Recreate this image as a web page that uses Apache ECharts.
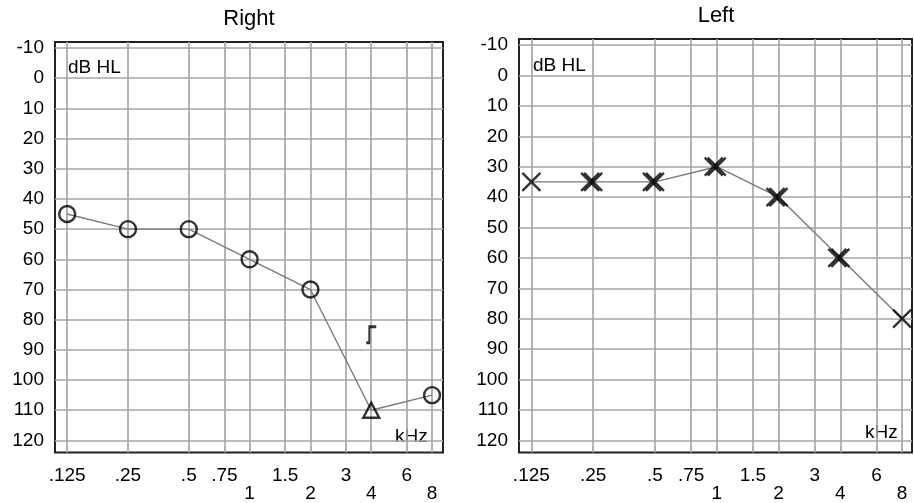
<!DOCTYPE html>
<html><head><meta charset="utf-8">
<script src="https://cdn.jsdelivr.net/npm/echarts@6/dist/echarts.min.js"></script>
<style>html,body{margin:0;padding:0;background:#fff}#c{width:914px;height:503px}</style>
</head><body><div id="c"></div>
<script>
// ---- data ----
const freqs = [0.125, 0.25, 0.5, 1, 2, 4, 8];
const rightAirDb = [45, 50, 50, 60, 70, 110, 105];
const rightAirMasked = [false, false, false, false, false, true, false];
const rightBoneMaskedFreqs = [4];
const rightBoneMaskedDb = [85];
const leftAirDb = [35, 35, 35, 30, 40, 60, 80];
const leftRetestFreqs = [0.25, 0.5, 1, 2, 4];
const leftRetestDb = [35, 35, 30, 40, 60];
const xTickFreqs = [0.125, 0.25, 0.5, 0.75, 1, 1.5, 2, 3, 4, 6, 8];
const xTickLabels = ['.125', '.25', '.5', '.75', '1', '1.5', '2', '3', '4', '6', '8'];
const yTicks = [-10, 0, 10, 20, 30, 40, 50, 60, 70, 80, 90, 100, 110, 120];
const titles = ['Right', 'Left'];

// ---- helpers ----
const lg = f => Math.log2(f);
const xTickPos = xTickFreqs.map(lg);
function xLabel(v) {
  let best = 0;
  for (let i = 1; i < xTickPos.length; i++) if (Math.abs(xTickPos[i] - v) < Math.abs(xTickPos[best] - v)) best = i;
  const f = xTickFreqs[best];
  const lower = f >= 1 && Number.isInteger(Math.log2(f));
  return lower ? '\n' + xTickLabels[best] : xTickLabels[best];
}
const FONT = '"Liberation Sans", Arial, sans-serif';
const INK = '#000';
const GRIDC = '#a6a6a6';
const X_PATH = 'path://M0,0L20,20M20,0L0,20';
const BRACKET_PATH = 'path://M13,0L4,0L4,18L0,18';

function makeX(idx, max) {
  return {
    type: 'value', gridIndex: idx, min: -3.2, max: max,
    axisLine: { show: false }, axisTick: { show: false, customValues: xTickPos },
    splitLine: { show: true, lineStyle: { color: GRIDC, width: 1.7 } },
    axisLabel: { customValues: xTickPos, formatter: xLabel, color: INK, fontSize: 19, fontFamily: FONT, lineHeight: 18, margin: 14 }
  };
}
function makeY(idx) {
  return {
    type: 'value', gridIndex: idx, inverse: true, min: -12, max: 124,
    axisLine: { show: false }, axisTick: { show: false, customValues: yTicks },
    splitLine: { show: true, lineStyle: { color: GRIDC, width: 1.7 } },
    axisLabel: { customValues: yTicks, color: INK, fontSize: 19, fontFamily: FONT, margin: 11 }
  };
}
const markStyle = { color: 'rgba(0,0,0,0)', borderColor: INK, borderWidth: 2.4 };
const lineStyle = { color: '#7a7a7a', width: 1.4 };

const rightPts = freqs.map((f, i) => [lg(f), rightAirDb[i]]);
const leftPts = freqs.map((f, i) => [lg(f), leftAirDb[i]]);

const option = {
  backgroundColor: '#fff',
  animation: false,
  title: titles.map((t, i) => ({
    text: t, left: i === 0 ? 249 : 716, top: i === 0 ? 8 : 5, textAlign: 'center', padding: 0,
    textStyle: { fontSize: 22, fontWeight: 'normal', color: INK, fontFamily: FONT }
  })),
  grid: [
    { left: 55, right: 471, top: 42, bottom: 46, show: true, borderColor: '#222', borderWidth: 2, backgroundColor: '#fff' },
    { left: 519, right: 2, top: 39, bottom: 50, show: true, borderColor: '#222', borderWidth: 2, backgroundColor: '#fff' }
  ],
  xAxis: [makeX(0, 3.18), makeX(1, 3.16)],
  yAxis: [makeY(0), makeY(1)],
  graphic: [
    { type: 'text', left: 68, top: 58, style: { text: 'dB HL', font: '19px ' + FONT, fill: INK } },
    { type: 'text', left: 533, top: 56, style: { text: 'dB HL', font: '19px ' + FONT, fill: INK } },
    { type: 'text', left: 395, top: 427, style: { text: 'kHz', font: '19px ' + FONT, fill: INK } },
    { type: 'text', left: 865, top: 423, style: { text: 'kHz', font: '19px ' + FONT, fill: INK } }
  ],
  series: [
    { type: 'line', xAxisIndex: 0, yAxisIndex: 0, data: rightPts, symbol: 'none', lineStyle: lineStyle, z: 2 },
    { type: 'scatter', xAxisIndex: 0, yAxisIndex: 0, data: rightPts.filter((p, i) => !rightAirMasked[i]), symbol: 'circle', symbolSize: 16, itemStyle: markStyle, z: 3 },
    { type: 'scatter', xAxisIndex: 0, yAxisIndex: 0, data: rightPts.filter((p, i) => rightAirMasked[i]), symbol: 'triangle', symbolSize: [16, 15], itemStyle: markStyle, z: 3 },
    { type: 'scatter', xAxisIndex: 0, yAxisIndex: 0, data: rightBoneMaskedFreqs.map((f, i) => [lg(f), rightBoneMaskedDb[i]]), symbol: BRACKET_PATH, symbolSize: [10, 16], itemStyle: { color: 'rgba(0,0,0,0)', borderColor: INK, borderWidth: 2.4 }, z: 3 },
    { type: 'line', xAxisIndex: 1, yAxisIndex: 1, data: leftPts, symbol: 'none', lineStyle: lineStyle, z: 2 },
    { type: 'scatter', xAxisIndex: 1, yAxisIndex: 1, data: leftPts, symbol: X_PATH, symbolSize: 18, itemStyle: markStyle, z: 3 },
    { type: 'scatter', xAxisIndex: 1, yAxisIndex: 1, data: leftRetestFreqs.map((f, i) => [lg(f), leftRetestDb[i]]), symbol: X_PATH, symbolSize: 18, symbolOffset: [-3, 0], itemStyle: markStyle, z: 3 }
  ]
};
const chart = echarts.init(document.getElementById('c'), null, { renderer: 'canvas' });
chart.setOption(option);
</script>
</body></html>
